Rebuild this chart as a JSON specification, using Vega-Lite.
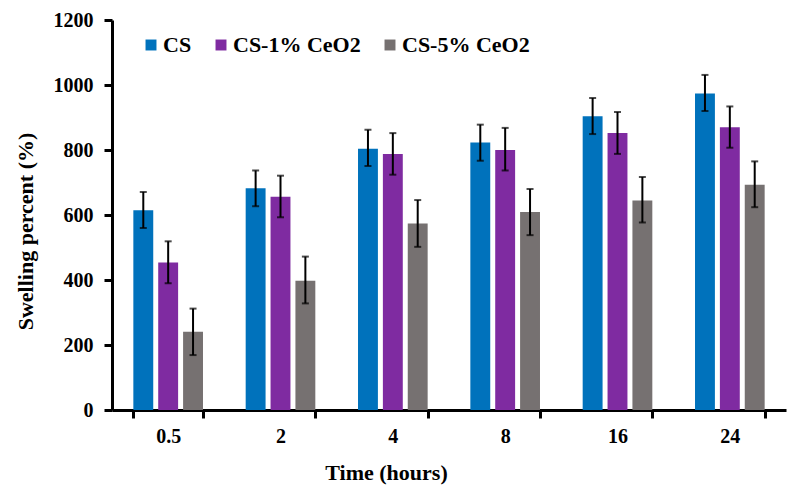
{
  "$schema": "https://vega.github.io/schema/vega-lite/v6.json",
  "autosize": {"type": "none"},
  "width": 674,
  "height": 390,
  "padding": {"left": 112, "top": 20, "right": 10, "bottom": 81},
  "background": "white",
  "config": {
    "view": {"stroke": null},
    "font": "Liberation Serif",
    "axis": {
      "labelFont": "Liberation Serif",
      "labelFontWeight": "bold",
      "labelFontSize": 20,
      "labelColor": "black",
      "titleFont": "Liberation Serif",
      "titleFontWeight": "bold",
      "titleFontSize": 22,
      "titleColor": "black",
      "domainColor": "black",
      "domainWidth": 3,
      "tickColor": "black",
      "tickWidth": 3,
      "tickSize": 8,
      "grid": false
    }
  },
  "data": {
    "values": [
      {"time": "0.5", "series": "CS", "value": 615, "lo": 560, "hi": 671},
      {"time": "0.5", "series": "CS-1% CeO2", "value": 454, "lo": 390, "hi": 519},
      {"time": "0.5", "series": "CS-5% CeO2", "value": 241, "lo": 169, "hi": 312},
      {"time": "2", "series": "CS", "value": 682, "lo": 627, "hi": 737},
      {"time": "2", "series": "CS-1% CeO2", "value": 656, "lo": 593, "hi": 721},
      {"time": "2", "series": "CS-5% CeO2", "value": 398, "lo": 328, "hi": 472},
      {"time": "4", "series": "CS", "value": 804, "lo": 751, "hi": 862},
      {"time": "4", "series": "CS-1% CeO2", "value": 788, "lo": 724, "hi": 852},
      {"time": "4", "series": "CS-5% CeO2", "value": 574, "lo": 502, "hi": 646},
      {"time": "8", "series": "CS", "value": 823, "lo": 767, "hi": 878},
      {"time": "8", "series": "CS-1% CeO2", "value": 800, "lo": 737, "hi": 868},
      {"time": "8", "series": "CS-5% CeO2", "value": 609, "lo": 538, "hi": 680},
      {"time": "16", "series": "CS", "value": 904, "lo": 849, "hi": 960},
      {"time": "16", "series": "CS-1% CeO2", "value": 852, "lo": 788, "hi": 917},
      {"time": "16", "series": "CS-5% CeO2", "value": 645, "lo": 577, "hi": 717},
      {"time": "24", "series": "CS", "value": 974, "lo": 920, "hi": 1031},
      {"time": "24", "series": "CS-1% CeO2", "value": 870, "lo": 807, "hi": 934},
      {"time": "24", "series": "CS-5% CeO2", "value": 693, "lo": 624, "hi": 765}
    ]
  },
  "encoding": {
    "x": {
      "field": "time",
      "type": "nominal",
      "sort": ["0.5", "2", "4", "8", "16", "24"],
      "scale": {"paddingInner": 0.38, "paddingOuter": 0.19},
      "axis": {
        "title": "Time (hours)",
        "labelAngle": 0,
        "tickBand": "extent",
        "labelPadding": 8,
        "titlePadding": 16,
        "titleX": 274,
        "titleAlign": "center"
      }
    },
    "xOffset": {
      "field": "series",
      "type": "nominal",
      "sort": ["CS", "CS-1% CeO2", "CS-5% CeO2"],
      "scale": {"paddingInner": 0.2, "paddingOuter": 0}
    }
  },
  "layer": [
    {
      "mark": {"type": "bar"},
      "encoding": {
        "y": {
          "field": "value",
          "type": "quantitative",
          "scale": {"domain": [0, 1200], "nice": false},
          "axis": {
            "title": "Swelling percent (%)",
            "values": [0, 200, 400, 600, 800, 1000, 1200],
            "format": "d",
            "labelPadding": 11,
            "titlePadding": 16,
            "titleY": 211
          }
        },
        "color": {
          "field": "series",
          "type": "nominal",
          "sort": ["CS", "CS-1% CeO2", "CS-5% CeO2"],
          "scale": {
            "domain": ["CS", "CS-1% CeO2", "CS-5% CeO2"],
            "range": ["#0072BC", "#7F2BA1", "#767171"]
          },
          "legend": {
            "title": null,
            "orient": "none",
            "direction": "horizontal",
            "legendX": 28,
            "legendY": 14,
            "symbolType": "square",
            "symbolSize": 120,
            "symbolStrokeWidth": 0,
            "labelFont": "Liberation Serif",
            "labelFontWeight": "bold",
            "labelFontSize": 22,
            "labelColor": "black",
            "labelOffset": 1,
            "columnPadding": 18
          }
        }
      }
    },
    {
      "mark": {"type": "rule", "color": "black", "strokeWidth": 2},
      "encoding": {
        "y": {"field": "lo", "type": "quantitative"},
        "y2": {"field": "hi"}
      }
    },
    {
      "mark": {"type": "tick", "color": "black", "thickness": 2, "size": 7, "orient": "horizontal"},
      "encoding": {
        "y": {"field": "lo", "type": "quantitative"}
      }
    },
    {
      "mark": {"type": "tick", "color": "black", "thickness": 2, "size": 7, "orient": "horizontal"},
      "encoding": {
        "y": {"field": "hi", "type": "quantitative"}
      }
    }
  ]
}
